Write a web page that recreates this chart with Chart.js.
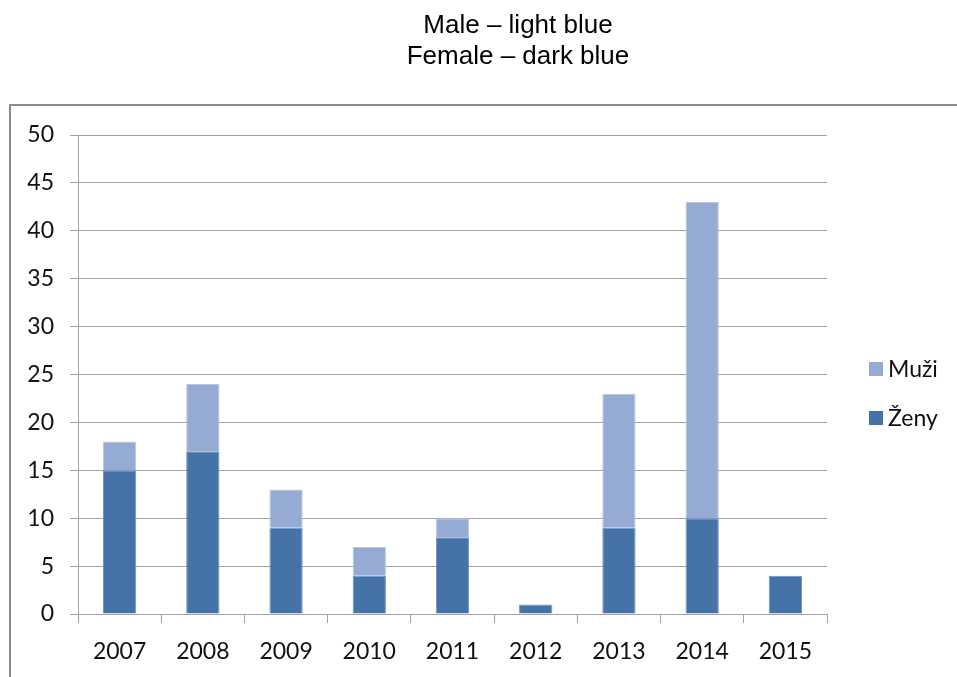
<!DOCTYPE html>
<html>
<head>
<meta charset="utf-8">
<script src="https://cdn.jsdelivr.net/npm/chart.js@4/dist/chart.umd.min.js"></script>
<style>
  html, body { margin: 0; padding: 0; background: #ffffff; }
  #wrap { position: relative; width: 957px; height: 677px; overflow: hidden; }
  canvas { display: block; }
</style>
</head>
<body>
<div id="wrap"><canvas id="chart" width="957" height="677"></canvas></div>
<script>
// Years on the category axis
const years = ['2007', '2008', '2009', '2010', '2011', '2012', '2013', '2014', '2015'];
// Counts per year, women (bottom segment) and men (stacked on top)
const zeny = [15, 17, 9, 4, 8, 1, 9, 10, 4];
const muzi = [3, 7, 4, 3, 2, 0, 14, 33, 0];
// Value axis ticks
const yTicks = [0, 5, 10, 15, 20, 25, 30, 35, 40, 45, 50];
// Two-line heading above the frame
const titleLines = ['Male \u2013 light blue', 'Female \u2013 dark blue'];

const DARK = '#4573a8';
const LIGHT = '#95abd4';
const GRID = '#a3a3a3';
const LABEL_FONT = '23px Lato, "Open Sans", sans-serif';

// Frame, heading and legend drawn onto the same canvas
const decor = {
  id: 'decor',
  beforeDraw(chart) {
    const ctx = chart.ctx;
    ctx.save();
    ctx.strokeStyle = '#8c8c8c';
    ctx.lineWidth = 2;
    ctx.beginPath();
    ctx.moveTo(10, 677);
    ctx.lineTo(10, 105);
    ctx.lineTo(957, 105);
    ctx.stroke();

    ctx.fillStyle = '#000000';
    ctx.font = '26px "Liberation Sans", Arial, sans-serif';
    ctx.textAlign = 'center';
    ctx.textBaseline = 'alphabetic';
    ctx.fillText(titleLines[0], 518, 33);
    ctx.fillText(titleLines[1], 518, 64);
    ctx.restore();
  },
  afterDraw(chart) {
    const ctx = chart.ctx;
    const items = chart.data.datasets.slice().reverse();
    ctx.save();
    ctx.font = LABEL_FONT;
    ctx.textAlign = 'left';
    ctx.textBaseline = 'middle';
    items.forEach((ds, i) => {
      const cy = 369 + i * 49;
      ctx.fillStyle = ds.backgroundColor;
      ctx.fillRect(869, cy - 7, 14, 14);
      ctx.fillStyle = '#111111';
      ctx.fillText(ds.label, 888, cy + 1);
    });
    ctx.restore();
  }
};

new Chart(document.getElementById('chart'), {
  type: 'bar',
  data: {
    labels: years,
    datasets: [
      {
        label: '\u017deny',
        data: zeny,
        backgroundColor: DARK,
        borderColor: '#6f93bf',
        borderWidth: 1,
        categoryPercentage: 1,
        barPercentage: 0.4
      },
      {
        label: 'Mu\u017ei',
        data: muzi,
        backgroundColor: LIGHT,
        borderColor: '#b7c7e4',
        borderWidth: 1,
        categoryPercentage: 1,
        barPercentage: 0.4
      }
    ]
  },
  options: {
    responsive: false,
    animation: false,
    devicePixelRatio: 1,
    layout: { padding: { top: 135, left: 0, right: 130, bottom: 0 } },
    plugins: {
      legend: { display: false },
      title: { display: false },
      tooltip: { enabled: false }
    },
    scales: {
      x: {
        stacked: true,
        offset: true,
        grid: {
          offset: true,
          drawOnChartArea: false,
          drawTicks: true,
          tickLength: 9,
          color: GRID
        },
        border: { display: true, color: GRID, width: 1 },
        ticks: {
          color: '#111111',
          font: { family: 'Lato, "Open Sans", sans-serif', size: 23 },
          padding: 15,
          maxRotation: 0
        },
        afterFit(scale) { scale.height = 63; }
      },
      y: {
        stacked: true,
        min: 0,
        max: 50,
        afterBuildTicks(scale) { scale.ticks = yTicks.map(v => ({ value: v })); },
        grid: {
          drawTicks: true,
          tickLength: 8,
          color: GRID
        },
        border: { display: true, color: GRID, width: 1 },
        ticks: {
          color: '#111111',
          font: { family: 'Lato, "Open Sans", sans-serif', size: 23 },
          padding: 16
        },
        afterFit(scale) { scale.width = 78; }
      }
    }
  },
  plugins: [decor]
});
</script>
</body>
</html>
